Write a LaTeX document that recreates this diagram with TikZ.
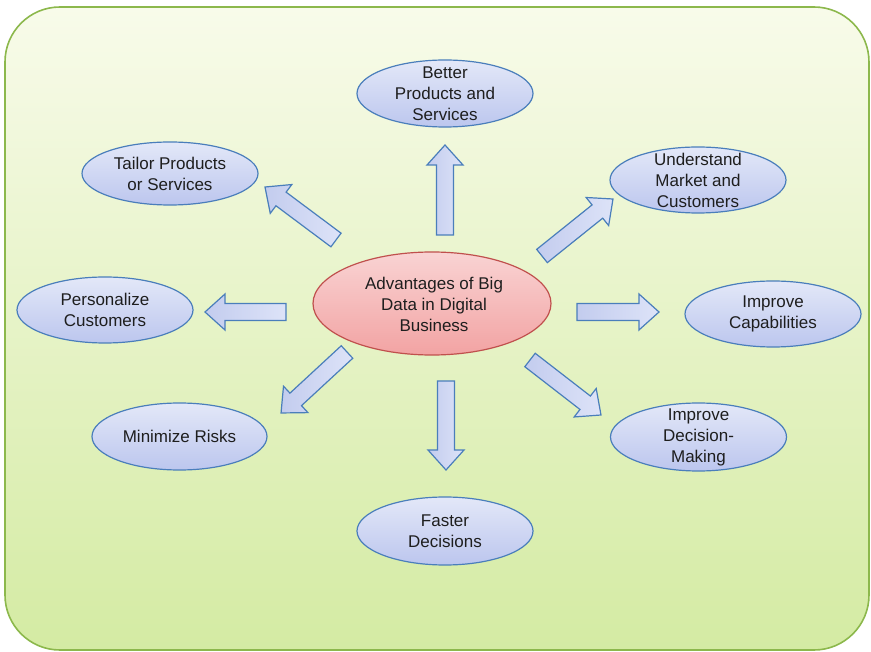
\documentclass[tikz,border=0pt]{standalone}
\usepackage{fontspec}
\setmainfont{Liberation Sans}
\usetikzlibrary{shapes.geometric,calc}
\definecolor{bgtop}{HTML}{F8FBEA}
\definecolor{bgbot}{HTML}{D4EBA3}
\definecolor{bgline}{HTML}{8CB84C}
\definecolor{bluetop}{HTML}{E3E8F8}
\definecolor{bluebot}{HTML}{BCC6EE}
\definecolor{blueline}{HTML}{4A7EBB}
\definecolor{pinktop}{HTML}{F9D3D3}
\definecolor{pinkbot}{HTML}{F2A3A3}
\definecolor{redline}{HTML}{C0504D}
\definecolor{arrA}{HTML}{C3CCEE}
\definecolor{arrB}{HTML}{DDE3F8}
\definecolor{txtc}{HTML}{1E1E1E}
\tikzset{
  bubble/.style={ellipse, draw=blueline, line width=1.2pt, top color=bluetop, bottom color=bluebot, inner sep=0pt},
  hub/.style={ellipse, draw=redline, line width=1.2pt, top color=pinktop, bottom color=pinkbot, inner sep=0pt},
  txt/.style={align=center, text=txtc, font=\fontsize{17}{21}\selectfont, inner sep=0pt},
  barrow/.style={draw=blueline, line width=1.2pt, line join=miter, left color=arrA, right color=arrB},
  bg/.style={draw=bgline, line width=1.6pt, top color=bgtop, bottom color=bgbot, rounded corners=55pt}
}
\newcommand{\blockarr}[2]{%
  \path let \p1=($(#2)-(#1)$) in \pgfextra{%
    \pgfmathsetmacro\barangtmp{atan2(\y1,\x1)}%
    \pgfmathsetmacro\barlentmp{veclen(\x1,\y1)}%
    \xdef\barang{\barangtmp}\xdef\barlen{\barlentmp}};
  \begin{scope}[shift={(#1)}, rotate=\barang]
    \draw[barrow] (0pt,8.5pt) -- ({\barlen*1pt-20pt},8.5pt) -- ({\barlen*1pt-20pt},18pt)
      -- ({\barlen*1pt},0pt) -- ({\barlen*1pt-20pt},-18pt) -- ({\barlen*1pt-20pt},-8.5pt)
      -- (0pt,-8.5pt) -- cycle;
  \end{scope}}
\begin{document}
\begin{tikzpicture}[x=1pt,y=-1pt]
\useasboundingbox (0,0) rectangle (871,652);
\draw[bg] (5,7) rectangle (869,650);

% nodes
\node[hub, minimum width=238pt, minimum height=103pt] (hub) at (432,303.5) {};
\node[txt] (hub-t) at (434,304.5) {Advantages of Big\\Data in Digital\\Business};

\node[bubble, minimum width=176pt, minimum height=67pt] (bp) at (445,93.5) {};
\node[txt] (bp-t) at ([yshift=-0.5pt]bp) {Better\\Products and\\Services};

\node[bubble, minimum width=176pt, minimum height=63pt] (tp) at (170,173.5) {};
\node[txt] (tp-t) at (tp) {Tailor Products\\or Services};

\node[bubble, minimum width=176pt, minimum height=66pt] (um) at (698,180) {};
\node[txt] (um-t) at ([yshift=-0.5pt]um) {Understand\\Market and\\Customers};

\node[bubble, minimum width=176pt, minimum height=66pt] (pc) at (105,310) {};
\node[txt] (pc-t) at (pc) {Personalize\\Customers};

\node[bubble, minimum width=176pt, minimum height=66pt] (ic) at (773,314) {};
\node[txt] (ic-t) at (ic) {Improve\\Capabilities};

\node[bubble, minimum width=175pt, minimum height=67pt] (mr) at (179.5,436.5) {};
\node[txt] (mr-t) at (mr) {Minimize Risks};

\node[bubble, minimum width=176pt, minimum height=68pt] (idm) at (698.5,437) {};
\node[txt] (idm-t) at (idm) {Improve\\Decision-\\Making};

\node[bubble, minimum width=176pt, minimum height=68pt] (fd) at (445,531) {};
\node[txt] (fd-t) at (fd) {Faster\\Decisions};

% arrow end points
\coordinate (aU0) at (445,235);   \coordinate (aU1) at (445,145);
\coordinate (aUL0) at (336,240);  \coordinate (aUL1) at (265,187);
\coordinate (aUR0) at (542,256);  \coordinate (aUR1) at (613,199);
\coordinate (aL0) at (286,312);   \coordinate (aL1) at (205,312);
\coordinate (aR0) at (577,312);   \coordinate (aR1) at (659,312);
\coordinate (aDL0) at (347,352);  \coordinate (aDL1) at (281,413);
\coordinate (aD0) at (446,381);   \coordinate (aD1) at (446,470);
\coordinate (aDR0) at (530,360);  \coordinate (aDR1) at (601,415);

\blockarr{aU0}{aU1}
\blockarr{aUL0}{aUL1}
\blockarr{aUR0}{aUR1}
\blockarr{aL0}{aL1}
\blockarr{aR0}{aR1}
\blockarr{aDL0}{aDL1}
\blockarr{aD0}{aD1}
\blockarr{aDR0}{aDR1}
\end{tikzpicture}
\end{document}
